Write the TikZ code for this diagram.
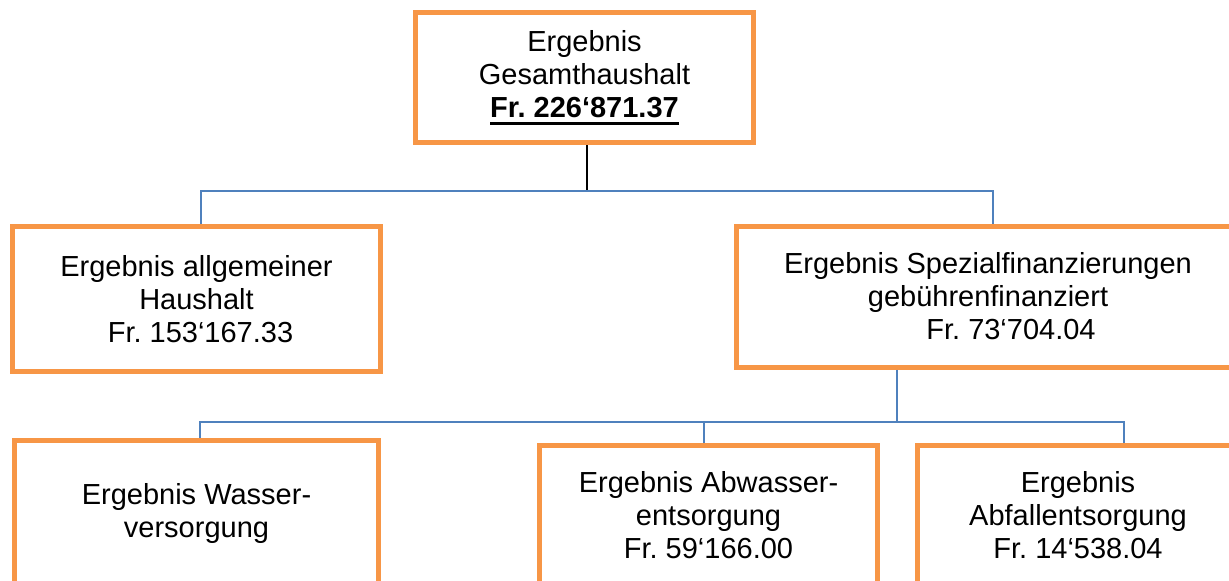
\documentclass[tikz,border=0pt]{standalone}
\usepackage{fontspec}
\setmainfont{Liberation Sans}
\usepackage{tikz}
\usetikzlibrary{positioning, calc}
\definecolor{OrgOrange}{RGB}{247, 150, 70}
\definecolor{OrgBlue}{RGB}{79, 129, 189}
\newcommand{\thickul}[1]{\setbox0\hbox{#1}\rlap{\rule[-3.8pt]{\wd0}{1.6pt}}\box0}
\frenchspacing

\begin{document}
\begin{tikzpicture}[
  x=0.5pt, y=-0.5pt,
  box/.style={draw=OrgOrange, fill=white, line width=2.5pt,
    inner sep=0pt, align=center,
    font=\fontsize{14.5pt}{16.5pt}\selectfont},
  bus/.style={OrgBlue, line width=1pt},
  stem/.style={black, line width=1pt}
]
\useasboundingbox (0,0) rectangle (1229,580);
\clip (0,0) rectangle (1229,580);
\fill[white] (0,0) rectangle (1229,580);

% boxes
\node[box, minimum width=169pt, minimum height=65pt] (total) at (584.5,77.5)
  {Ergebnis\\Gesamthaushalt\\\thickul{\textbf{Fr. 226‘871.37}}};
\node[box, minimum width=184pt, minimum height=72.5pt] (allg) at (196.5,299)
  {Ergebnis allgemeiner\\Haushalt\\\hspace*{4pt}Fr. 153‘167.33};
\node[box, minimum width=251.5pt, minimum height=70.5pt] (spez) at (988,296.5)
  {Ergebnis Spezialfinanzierungen\\gebührenfinanziert\\\hspace*{23pt}Fr. 73‘704.04};
\node[box, minimum width=182pt, minimum height=73pt] (wasser) at (196.5,513.5)
  {Ergebnis Wasser-\\versorgung};
\node[box, minimum width=169pt, minimum height=69.5pt] (abw) at (708.5,515)
  {Ergebnis Abwasser-\\entsorgung\\Fr. 59‘166.00};
\node[box, minimum width=160.5pt, minimum height=69.5pt] (abf) at (1078,515)
  {Ergebnis\\Abfallentsorgung\\Fr. 14‘538.04};

% junctions
\coordinate (top) at (587,191);
\coordinate (topL) at (200.5,191);
\coordinate (topR) at (993,191);
\coordinate (low) at (897,422);
\coordinate (lowL) at (200,422);
\coordinate (lowM) at (704,422);
\coordinate (lowR) at (1124,422);

% connectors
\draw[stem] (top |- total.south) -- (top);
\draw[bus] (topL |- allg.north) -- (topL) -- (topR) -- (topR |- spez.north);
\draw[bus] (low |- spez.south) -- (low);
\draw[bus] (lowL |- wasser.north) -- (lowL) -- (lowR) -- (lowR |- abf.north);
\draw[bus] (lowM |- abw.north) -- (lowM);
\end{tikzpicture}
\end{document}
